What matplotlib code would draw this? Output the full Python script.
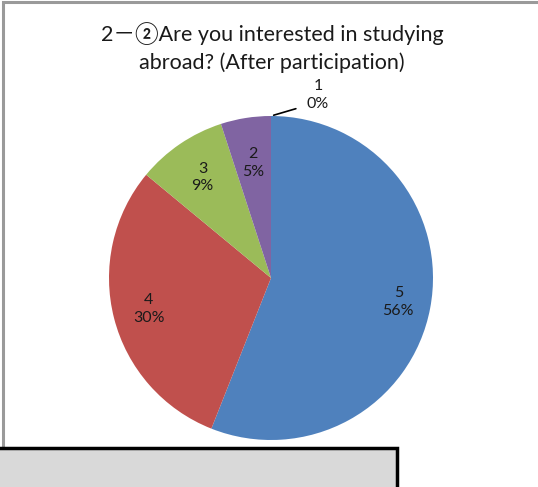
import matplotlib.pyplot as plt
from matplotlib.patches import Rectangle
import numpy as np

# survey answers, 5 = very interested ... 1 = not at all
answers = ["5", "4", "3", "2", "1"]
shares = [56, 30, 9, 5, 0]
colors = ["#4F81BD", "#C0504D", "#9BBB59", "#8064A2", "#4BACC6"]
title = "2－②Are you interested in studying\nabroad? (After participation)"

W, H = 538, 487
fig = plt.figure(figsize=(W / 100, H / 100), dpi=100)
fig.patch.set_facecolor("white")

# chart frame (only left and top edges visible)
fig.add_artist(Rectangle((2.5 / W, -0.1), 1.2, 1.1 - 1.5 / H, transform=fig.transFigure,
                         fill=False, edgecolor="#9a9a9a", linewidth=2.2))

fig.text(272 / W, 1 - 48 / H, title, ha="center", va="center", fontsize=15.5,
         family=["Lato", "Noto Sans CJK JP", "DejaVu Sans"], color="#1a1a1a",
         linespacing=1.45)

cx, cy, r = 271, 278, 162
ax = fig.add_axes([(cx - r) / W, (H - cy - r) / H, 2 * r / W, 2 * r / H])

wedges, _ = ax.pie(shares, colors=colors, startangle=90, counterclock=False,
                   radius=1, wedgeprops=dict(linewidth=0))
ax.set_xlim(-1, 1)
ax.set_ylim(-1, 1)
ax.axis("off")

dist = [0.80, 0.78, 0.75, 0.72, 1.13]
total = sum(shares)
for w, lab, val, d in zip(wedges, answers, shares, dist):
    ang = np.deg2rad((w.theta1 + w.theta2) / 2)
    x, y = d * np.cos(ang), d * np.sin(ang)
    if val == 0:
        x, y = 0.29, 1.13
        ax.annotate("", xy=(0, 1.0), xytext=(0.17, 1.05),
                    arrowprops=dict(arrowstyle="-", color="black", lw=1.2),
                    annotation_clip=False)
    ax.text(x, y, f"{lab}\n{round(100 * val / total)}%", ha="center", va="center",
            fontsize=11.5, family=["Lato", "DejaVu Sans"], color="#1a1a1a",
            linespacing=1.35, clip_on=False)

# grey panel at the bottom
fig.add_artist(Rectangle((-0.01, -0.1), (397 + 5) / W, (H - 448) / H + 0.1,
                         transform=fig.transFigure, facecolor="#d9d9d9",
                         edgecolor="black", linewidth=2.5))

fig.savefig("out.png", dpi=100)
